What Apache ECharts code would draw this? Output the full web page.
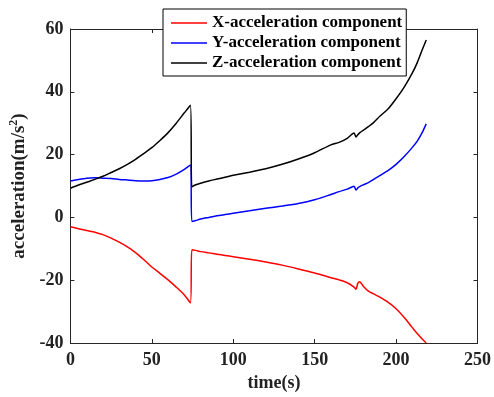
<!DOCTYPE html>
<html>
<head>
<meta charset="utf-8">
<script src="https://cdn.jsdelivr.net/npm/echarts@6/dist/echarts.min.js"></script>
<style>html,body{margin:0;padding:0;background:#fff}#c{width:494px;height:397px}</style>
</head>
<body>
<div id="c"></div>
<script>
const time = [0,5,10,15,20,25,30,35,40,45,50,55,60,65,70,73.7,74.6,77,80,85,90,95,100,110,120,130,140,150,160,165,170,174.2,175.4,176.5,177.6,180,183,186,190,195,200,205,210,213,216,218.5];
const xAcc = [-3.0,-3.6,-4.2,-4.7,-5.5,-6.6,-7.9,-9.4,-11.2,-13.4,-15.8,-17.8,-19.9,-22.2,-24.7,-27.2,-10.3,-10.5,-10.9,-11.3,-11.7,-12.1,-12.5,-13.3,-14.2,-15.2,-16.4,-17.7,-19.2,-19.9,-20.8,-22.2,-22.9,-21.0,-20.5,-22.0,-23.5,-24.3,-25.4,-27.0,-29.1,-31.9,-35.1,-37.0,-38.7,-40.0];
const yAcc = [11.6,12.1,12.5,12.6,12.5,12.4,12.1,11.9,11.7,11.6,11.7,12.1,12.7,13.8,15.3,16.7,-1.3,-1.0,-0.5,0.0,0.5,0.9,1.3,2.1,2.9,3.6,4.4,5.6,7.3,8.2,9.0,9.9,8.7,9.4,9.8,10.4,11.1,12.0,13.3,14.9,16.9,19.4,22.3,24.3,27.0,29.8];
const zAcc = [9.3,10.3,11.2,12.1,13.1,14.3,15.5,16.9,18.5,20.3,22.2,24.5,27.0,30.0,33.3,35.7,9.7,10.4,10.9,11.6,12.2,12.8,13.4,14.4,15.5,16.9,18.6,20.6,23.1,23.9,25.2,26.9,25.6,26.3,26.9,27.8,28.9,30.1,32.2,34.5,37.8,41.5,46.0,49.3,53.3,56.5];
const seriesNames = ['X-acceleration component','Y-acceleration component','Z-acceleration component'];
const xTicks = {min:0, max:250, interval:50};
const yTicks = {min:-40, max:60, interval:20};

const font = 'Liberation Serif';
const axisCol = '#262626';
const pair = arr => time.map((t,i)=>[t,arr[i]]);
const chart = echarts.init(document.getElementById('c'), null, {renderer:'canvas'});
const baseAxis = {
  axisLine:{show:true, onZero:false, lineStyle:{color:axisCol, width:1}},
  axisTick:{show:true, inside:true, length:4, lineStyle:{color:axisCol}},
  splitLine:{show:false}
};
chart.setOption({
  backgroundColor:'#fff',
  animation:false,
  grid:{left:70, right:13, top:29, bottom:51},
  legend:{
    data:seriesNames, orient:'vertical', left:163, top:9,
    padding:[4,4,3,8], itemGap:0, itemWidth:36, itemHeight:1.5, icon:'rect',
    backgroundColor:'#fff', borderColor:'#000', borderWidth:1,
    textStyle:{fontFamily:font, fontWeight:'bold', fontSize:17, color:'#000', lineHeight:20}
  },
  xAxis:[
    Object.assign({type:'value', position:'bottom', min:xTicks.min, max:xTicks.max, interval:xTicks.interval,
      name:'time(s)', nameLocation:'middle', nameGap:31,
      nameTextStyle:{fontFamily:font, fontWeight:'bold', fontSize:18, color:'#222'},
      axisLabel:{fontFamily:font, fontWeight:'bold', fontSize:18, color:'#222', margin:8}}, baseAxis),
    Object.assign({type:'value', position:'top', min:xTicks.min, max:xTicks.max, interval:xTicks.interval,
      axisLabel:{show:false}}, baseAxis)
  ],
  yAxis:[
    Object.assign({type:'value', position:'left', min:yTicks.min, max:yTicks.max, interval:yTicks.interval,
      name:'acceleration(m/s{sup|2})', nameLocation:'middle', nameGap:33,
      nameTextStyle:{fontFamily:font, fontWeight:'bold', fontSize:19, color:'#222',
        rich:{sup:{fontFamily:font, fontWeight:'bold', fontSize:12, color:'#222', verticalAlign:'top', padding:[0,0,10,0]}}},
      axisLabel:{fontFamily:font, fontWeight:'bold', fontSize:18, color:'#222', margin:7}}, baseAxis),
    Object.assign({type:'value', position:'right', min:yTicks.min, max:yTicks.max, interval:yTicks.interval,
      axisLabel:{show:false}}, baseAxis)
  ],
  series:[
    {name:seriesNames[0], type:'line', data:pair(xAcc), symbol:'none', smooth:0.25, lineStyle:{color:'#ff0000', width:1.5}, itemStyle:{color:'#ff0000'}},
    {name:seriesNames[1], type:'line', data:pair(yAcc), symbol:'none', smooth:0.25, lineStyle:{color:'#0000ff', width:1.5}, itemStyle:{color:'#0000ff'}},
    {name:seriesNames[2], type:'line', data:pair(zAcc), symbol:'none', smooth:0.25, lineStyle:{color:'#000000', width:1.5}, itemStyle:{color:'#000000'}}
  ]
});
</script>
</body>
</html>
